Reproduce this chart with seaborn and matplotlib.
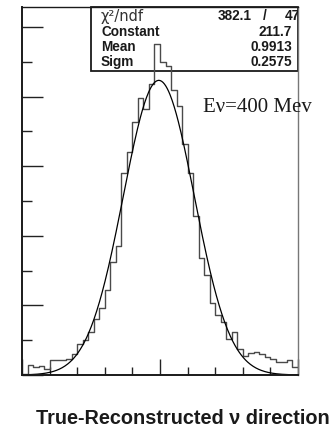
import numpy as np
import pandas as pd
import matplotlib
matplotlib.use("Agg")
import matplotlib.pyplot as plt
from matplotlib.ticker import MultipleLocator, FixedLocator
import seaborn as sns

# Histogram: 50 bins of width 0.04 over [0, 2]
bin_width = 0.04
bin_range = (0.0, 2.0)
bin_counts = [
    1, 7, 6, 6.5, 4, 11, 10.5, 10.5, 11.5, 15,
    22.5, 25, 31, 40, 48, 61, 81, 93, 145, 160,
    182, 199, 191, 209, 238, 225, 222, 205, 193, 166,
    145, 114, 84, 72, 52, 43, 38, 26, 31, 18.5,
    14, 16, 16.7, 15, 13, 11.5, 9.6, 9, 11, 6,
]

# Gaussian fit results
fit_labels = ["Constant", "Mean", "Sigm"]
fit_values = [211.7, 0.9913, 0.2575]
chi2_value = "382.1"
ndf_value = "47"

bin_centers = bin_range[0] + bin_width * (np.arange(len(bin_counts)) + 0.5)
hist_df = pd.DataFrame({"direction": bin_centers, "count": bin_counts})

const, mean, sigma = fit_values
curve_x = np.linspace(0.0, 2.0, 400)
curve_df = pd.DataFrame({
    "direction": curve_x,
    "fit": const * np.exp(-0.5 * ((curve_x - mean) / sigma) ** 2),
})

sns.set_style("ticks")
fig = plt.figure(figsize=(3.36, 4.36), dpi=100)
ax = fig.add_axes([22 / 336, 1 - 375 / 436, 276 / 336, 368 / 436])

sns.histplot(data=hist_df, x="direction", weights="count",
             binwidth=bin_width, binrange=bin_range,
             element="step", fill=False, color="#4a4a4a", linewidth=1.0, ax=ax)
sns.lineplot(data=curve_df, x="direction", y="fit", color="black",
             linewidth=0.9, ax=ax, sort=False)

ax.set_xlim(0, 2)
ax.set_ylim(0, 264.4)
ax.set_xlabel("")
ax.set_ylabel("")

ax.xaxis.set_major_locator(FixedLocator([0.0, 1.0, 2.0]))
ax.xaxis.set_minor_locator(MultipleLocator(0.2))
ax.yaxis.set_major_locator(MultipleLocator(50))
ax.yaxis.set_minor_locator(MultipleLocator(25))
ax.tick_params(axis="x", which="major", direction="in", length=11.5, width=1.0,
               color="#222222", labelbottom=False)
ax.tick_params(axis="x", which="minor", direction="in", length=5.8, width=1.0,
               color="#222222")
ax.tick_params(axis="y", which="major", direction="in", length=15, width=1.0,
               color="#222222", labelleft=False)
ax.tick_params(axis="y", which="minor", direction="in", length=7.3, width=1.0,
               color="#222222")

for side in ["left", "bottom", "top"]:
    ax.spines[side].set_visible(True)
    ax.spines[side].set_color("#1a1a1a")
ax.spines["left"].set_linewidth(1.4)
ax.spines["bottom"].set_linewidth(1.4)
ax.spines["top"].set_linewidth(1.0)
ax.spines["right"].set_visible(True)
ax.spines["right"].set_color("#777777")
ax.spines["right"].set_linewidth(1.0)

# Histogram and fit curve stay above the statistics box
for artist in ax.lines + ax.patches + ax.collections:
    artist.set_zorder(2)

# Fit statistics box
bx0, by0 = (91 - 22) / 276, (375 - 70.7) / 368
box = plt.Rectangle((bx0, by0), 1 - bx0, 1 - by0, transform=ax.transAxes,
                    facecolor="white", edgecolor="#1a1a1a", linewidth=1.3,
                    zorder=1.0, clip_on=False)
ax.add_patch(box)

fs = 9.8
row_y = [(375 - y) / 368 for y in (16.5, 31.7, 47, 62)]
lab_x = (101 - 22) / 276
val_x = (292 - 22) / 276
ax.text(lab_x, row_y[0], "χ²/ndf", transform=ax.transAxes, ha="left",
        va="center", fontsize=10.5, family="DejaVu Sans", weight="normal",
        color="#333333", zorder=3)
ax.text((252 - 22) / 276, row_y[0], chi2_value, transform=ax.transAxes,
        ha="right", va="center", fontsize=fs, family="Liberation Sans",
        weight="bold", color="#1a1a1a", zorder=3)
ax.text((265 - 22) / 276, row_y[0], "/", transform=ax.transAxes,
        ha="center", va="center", fontsize=fs, family="Liberation Sans",
        weight="bold", color="#1a1a1a", zorder=3)
ax.text((285 - 22) / 276, row_y[0], ndf_value, transform=ax.transAxes,
        ha="left", va="center", fontsize=fs, family="Liberation Sans",
        weight="bold", color="#1a1a1a", zorder=3, clip_on=True)
value_text = ["211.7", "0.9913", "0.2575"]
for i, (lab, val) in enumerate(zip(fit_labels, value_text)):
    ax.text(lab_x, row_y[i + 1], lab, transform=ax.transAxes, ha="left",
            va="center", fontsize=fs, family="Liberation Sans", weight="bold",
            color="#1a1a1a", zorder=3)
    ax.text(val_x, row_y[i + 1], val, transform=ax.transAxes, ha="right",
            va="center", fontsize=fs, family="Liberation Sans", weight="bold",
            color="#1a1a1a", zorder=3)

ax.text((203 - 22) / 276, (375 - 112) / 368, "Eν=400 Mev",
        transform=ax.transAxes, ha="left", va="baseline", fontsize=15,
        family="Liberation Serif", color="#1a1a1a", zorder=3, clip_on=False)

fig.text(36 / 336, 1 - 424 / 436, "True-Reconstructed ν direction",
         ha="left", va="baseline", fontsize=14.3, family="Liberation Sans",
         weight="bold", color="#1a1a1a")

fig.savefig("out.png", dpi=100)
